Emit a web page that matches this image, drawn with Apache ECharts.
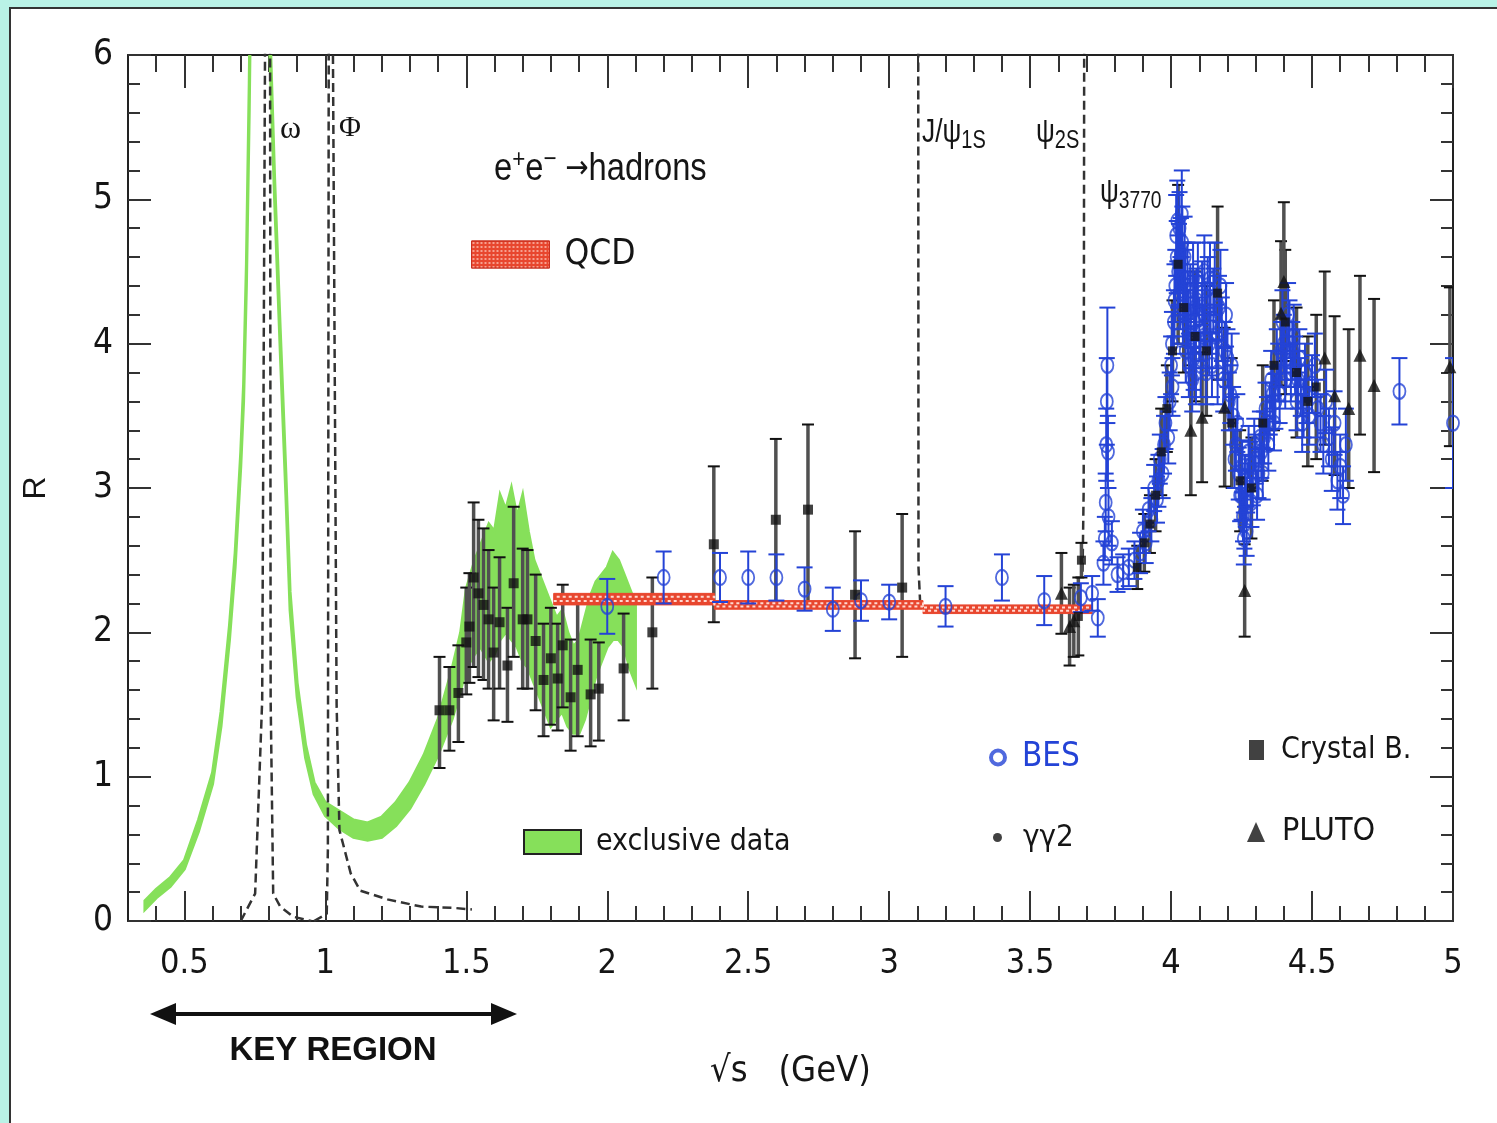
<!DOCTYPE html>
<html><head><meta charset="utf-8">
<script src="https://cdn.jsdelivr.net/npm/echarts@6/dist/echarts.min.js"></script>
<style>html,body{margin:0;padding:0;background:#b9f2e6;overflow:hidden}#c{width:1497px;height:1123px}</style>
</head><body><div id="c"></div>
<script>
const FONT='"DejaVu Sans Condensed","Liberation Sans",sans-serif';
const NARROW='"Liberation Sans",Arial,sans-serif';
const SERIF='"Liberation Serif","DejaVu Serif",serif';

// ---- axis ticks ----
const xMajor=[0.5,1,1.5,2,2.5,3,3.5,4,4.5,5];
const xMinor=[0.4,0.6,0.7,0.8,0.9,1.1,1.2,1.3,1.4,1.6,1.7,1.8,1.9,2.1,2.2,2.3,2.4,2.6,2.7,2.8,2.9,3.1,3.2,3.3,3.4,3.6,3.7,3.8,3.9,4.1,4.2,4.3,4.4,4.6,4.7,4.8,4.9];

// ---- exclusive data band (green) ----
const exclX =[0.36,0.40,0.45,0.50,0.55,0.60,0.63,0.66,0.68,0.70,0.71,0.72,0.73,0.745,0.765,0.785,0.80,0.82,0.84,0.86,0.875,0.90,0.93,0.96,1.00,1.05,1.10,1.15,1.20,1.25,1.30,1.35,1.40,1.45,1.48,1.50,1.53,1.55,1.58,1.60,1.62,1.64,1.66,1.68,1.70,1.72,1.74,1.76,1.78,1.80,1.82,1.84,1.86,1.88,1.90,1.92,1.94,1.96,1.98,2.00,2.02,2.04,2.06,2.08,2.10];
const exclLo=[0.08,0.16,0.24,0.36,0.62,0.95,1.35,1.95,2.45,3.15,3.60,4.40,5.60,8.0,9.0,8.0,6.2,5.0,3.95,2.95,2.15,1.55,1.13,0.88,0.73,0.64,0.58,0.56,0.58,0.66,0.78,0.95,1.15,1.40,1.60,1.75,1.85,1.90,1.80,1.85,1.95,2.00,1.95,1.90,1.80,1.75,1.65,1.55,1.45,1.35,1.40,1.45,1.35,1.30,1.30,1.40,1.55,1.70,1.80,1.90,1.95,1.95,1.90,1.75,1.65];
const exclHi=[0.14,0.22,0.30,0.42,0.70,1.03,1.45,2.05,2.55,3.25,3.72,4.55,5.80,8.3,9.3,8.3,6.4,5.15,4.10,3.10,2.28,1.65,1.22,0.96,0.82,0.76,0.70,0.68,0.72,0.82,0.96,1.15,1.40,1.75,2.00,2.30,2.50,2.60,2.75,2.70,2.95,2.85,3.00,2.80,2.95,2.70,2.50,2.40,2.30,2.20,2.10,2.15,2.00,1.90,1.95,2.10,2.25,2.35,2.40,2.45,2.55,2.50,2.40,2.30,2.20];

// ---- QCD band ----
const qcdX =[1.81,2.38,2.38,3.12,3.12,3.72];
const qcdLo=[2.19,2.19,2.16,2.16,2.13,2.13];
const qcdHi=[2.27,2.27,2.22,2.22,2.19,2.19];

// ---- resonance curves (dashed) ----
const omegaCurve=[[0.70,0.00],[0.751,0.19],[0.776,1.53],[0.786,6.0],[0.795,7.0],[0.804,6.0],[0.806,1.53],[0.815,0.19],[0.84,0.10],[0.886,0.03],[0.95,0.00]];
const phiCurve=[[0.96,0.00],[1.005,0.05],[1.009,0.5],[1.012,6.0],[1.019,7.0],[1.027,6.0],[1.04,1.5],[1.05,0.63],[1.09,0.33],[1.124,0.21],[1.22,0.15],[1.34,0.10],[1.46,0.09],[1.52,0.08]];
const jpsiLine=[[3.11,2.20],[3.104,2.45],[3.103,6.5]];
const psi2sLine=[[3.686,2.42],[3.690,3.0],[3.692,6.5]];

// ---- gamma gamma 2 : [x, R, low, high] ----
const gg2=[[1.405,1.46,1.06,1.83],[1.44,1.46,1.18,1.76],[1.472,1.58,1.24,1.91],[1.50,1.93,1.57,2.31],[1.511,2.04,1.65,2.41],[1.526,2.38,1.76,2.90],[1.543,2.27,1.69,2.78],[1.561,2.19,1.67,2.72],[1.579,2.09,1.61,2.57],[1.597,1.86,1.39,2.31],[1.618,2.07,1.61,2.52],[1.646,1.77,1.38,2.17],[1.668,2.34,1.83,2.87],[1.70,2.09,1.61,2.58],[1.717,2.09,1.61,2.57],[1.746,1.94,1.46,2.40],[1.774,1.67,1.28,2.06],[1.80,1.82,1.36,2.17],[1.824,1.68,1.32,2.06],[1.842,1.91,1.48,2.33],[1.87,1.55,1.18,1.95],[1.895,1.74,1.28,2.20],[1.941,1.57,1.21,1.95],[1.97,1.61,1.25,1.93],[2.058,1.75,1.39,2.13],[2.16,2.00,1.61,2.38],[2.378,2.61,2.07,3.15],[2.598,2.78,2.20,3.34],[2.712,2.85,2.20,3.44],[2.879,2.26,1.82,2.70],[3.046,2.31,1.83,2.82]];

// ---- Crystal Ball : [x, R, err] ----
const crystalBall=[[3.671,2.11,0.27],[3.682,2.50,0.12],[3.88,2.45,0.15],[3.905,2.62,0.2],[3.925,2.75,0.2],[3.945,2.95,0.25],[3.965,3.25,0.3],[3.985,3.55,0.3],[4.005,3.95,0.35],[4.025,4.55,0.55],[4.045,4.25,0.45],[4.085,4.05,0.45],[4.125,3.95,0.45],[4.165,4.35,0.6],[4.215,3.45,0.45],[4.245,3.05,0.35],[4.285,3.00,0.35],[4.325,3.45,0.4],[4.365,3.85,0.45],[4.405,4.15,0.5],[4.445,3.80,0.45],[4.485,3.60,0.45],[4.515,3.70,0.5]];

// ---- PLUTO : [x, R, err] ----
const pluto=[[3.611,2.27,0.28],[3.64,2.04,0.27],[3.655,2.08,0.25],[4.07,3.40,0.45],[4.11,3.49,0.45],[4.19,3.56,0.55],[4.261,2.29,0.32],[4.39,4.21,0.5],[4.40,4.43,0.55],[4.545,3.90,0.6],[4.58,3.64,0.55],[4.63,3.55,0.55],[4.67,3.92,0.55],[4.72,3.71,0.6],[4.989,3.84,0.55]];

// ---- BES : [x, R, err] ----
const bes=[[2.00,2.18,0.19],[2.20,2.38,0.18],[2.40,2.38,0.17],[2.50,2.38,0.18],[2.60,2.38,0.16],[2.70,2.30,0.15],[2.80,2.16,0.15],[2.90,2.22,0.14],[3.00,2.21,0.12],[3.20,2.18,0.14],[3.40,2.38,0.16],[3.55,2.22,0.17],[3.68,2.24,0.10],[3.72,2.27,0.12],[3.74,2.10,0.13],[3.76,2.48,0.15],[3.765,2.65,0.15],[3.768,2.90,0.2],[3.770,3.30,0.25],[3.772,3.60,0.3],[3.774,3.85,0.4],[3.776,3.25,0.25],[3.778,2.80,0.2],[3.79,2.62,0.15],[3.81,2.40,0.12],[3.83,2.42,0.12],[3.85,2.45,0.13],[3.87,2.50,0.13],[3.89,2.55,0.14],[3.90,2.70,0.15],[3.91,2.62,0.14],[3.92,2.85,0.15],[3.93,2.78,0.15],[3.94,3.00,0.16],[3.95,2.92,0.16],[3.96,3.20,0.17],[3.97,3.10,0.17],[3.98,3.45,0.18],[3.99,3.35,0.18],[4.00,3.85,0.2],[4.005,3.70,0.2],[4.01,4.15,0.22],[4.015,4.40,0.25],[4.02,4.60,0.25],[4.025,4.50,0.25],[4.03,4.80,0.25],[4.035,4.62,0.25],[4.04,4.70,0.25],[4.045,4.45,0.25],[4.05,4.40,0.25],[4.055,4.20,0.22],[4.06,4.15,0.22],[4.07,4.05,0.22],[4.08,3.90,0.22],[4.085,4.25,0.22],[4.09,4.30,0.22],[4.10,4.10,0.22],[4.11,4.35,0.22],[4.12,4.20,0.22],[4.13,4.38,0.22],[4.14,4.15,0.22],[4.15,4.30,0.22],[4.16,4.05,0.22],[4.17,4.25,0.22],[4.18,4.10,0.22],[4.19,3.95,0.2],[4.20,3.90,0.2],[4.21,3.65,0.2],[4.22,3.50,0.2],[4.23,3.30,0.18],[4.24,3.10,0.18],[4.25,2.95,0.17],[4.255,2.80,0.17],[4.26,2.75,0.17],[4.265,2.90,0.17],[4.27,3.00,0.17],[4.28,3.15,0.17],[4.29,3.05,0.17],[4.30,3.20,0.17],[4.31,3.10,0.17],[4.32,3.25,0.18],[4.33,3.35,0.18],[4.34,3.45,0.18],[4.35,3.55,0.18],[4.36,3.65,0.19],[4.37,3.60,0.19],[4.38,3.80,0.2],[4.39,3.95,0.2],[4.40,4.00,0.2],[4.41,3.90,0.2],[4.42,4.10,0.2],[4.43,3.95,0.2],[4.44,3.85,0.2],[4.45,3.75,0.2],[4.46,3.70,0.2],[4.47,3.55,0.2],[4.48,3.65,0.2],[4.50,3.72,0.2],[4.52,3.55,0.2],[4.54,3.30,0.2],[4.56,3.35,0.2],[4.57,3.20,0.22],[4.59,3.05,0.2],[4.62,3.30,0.25],[4.81,3.67,0.23],[5.00,3.45,0.45],
[3.955,3.05,0.18],[3.975,3.30,0.2],[3.995,3.60,0.2],[4.003,4.00,0.22],[4.012,4.30,0.25],[4.018,4.75,0.28],[4.022,4.85,0.28],[4.028,4.55,0.28],[4.033,4.35,0.25],[4.038,4.90,0.3],[4.042,4.25,0.25],[4.048,4.60,0.28],[4.052,3.95,0.22],[4.058,4.45,0.25],[4.063,3.85,0.22],[4.068,4.30,0.25],[4.075,3.75,0.22],[4.078,4.45,0.25],[4.082,4.15,0.22],[4.088,3.80,0.22],[4.095,4.45,0.25],[4.105,3.85,0.22],[4.115,4.05,0.22],[4.118,4.50,0.25],[4.125,3.80,0.22],[4.135,4.00,0.22],[4.138,4.45,0.25],[4.145,3.85,0.22],[4.155,4.45,0.25],[4.165,3.80,0.22],[4.175,4.40,0.25],[4.185,3.75,0.22],[4.195,4.20,0.22],[4.205,3.60,0.2],[4.215,3.85,0.22],[4.225,3.20,0.2],[4.235,3.45,0.2],[4.245,2.95,0.18],[4.252,3.15,0.18],[4.258,2.65,0.18],[4.262,3.05,0.18],[4.268,2.70,0.17],[4.275,3.25,0.18],[4.285,2.90,0.17],[4.295,3.30,0.18],[4.305,2.95,0.17],[4.315,3.35,0.18],[4.325,3.10,0.18],[4.335,3.55,0.18],[4.345,3.30,0.18],[4.355,3.75,0.2],[4.365,3.45,0.19],[4.375,3.90,0.2],[4.385,3.65,0.2],[4.395,4.15,0.22],[4.405,3.75,0.2],[4.415,4.20,0.22],[4.425,3.80,0.2],[4.435,4.05,0.22],[4.445,3.60,0.2],[4.455,3.90,0.2],[4.465,3.45,0.2],[4.475,3.80,0.2],[4.49,3.50,0.2],[4.51,3.85,0.22],[4.53,3.45,0.2],[4.55,3.60,0.22],[4.58,3.45,0.22],[4.60,3.15,0.22],[4.61,2.95,0.2]];

const BLUE='#2443d6', GREEN='#86e05a', RED='#e8462e';

function toBars(arr){return arr.map(d=>d.length===4?[d[0],d[2],d[3]]:[d[0],d[1]-d[2],d[1]+d[2]]);}
function bandSeries(name,xs,lo,hi,fill,stroke,lw,z,extra){
  return {type:'custom',name,z,clip:true,itemStyle:{color:fill},
    data:xs.map((x,i)=>[x,lo[i],hi[i]]),encode:{x:0,y:[1,2]},
    renderItem:(p,api)=>{
      if(p.dataIndex!==0) return null;
      const up=[],dn=[];
      for(let i=0;i<xs.length;i++){up.push(api.coord([xs[i],hi[i]]));dn.push(api.coord([xs[i],lo[i]]));}
      const children=[{type:'polygon',shape:{points:up.concat(dn.slice().reverse())},style:{fill,stroke,lineWidth:lw}}];
      if(extra){
        const m1=[],m2=[];
        for(let i=0;i<xs.length;i++){m1.push(api.coord([xs[i],lo[i]+(hi[i]-lo[i])*0.33]));m2.push(api.coord([xs[i],lo[i]+(hi[i]-lo[i])*0.7]));}
        children.push({type:'polyline',shape:{points:m1},style:{stroke:'#ffd8d0',lineWidth:2,lineDash:[3,3],fill:null}});
        children.push({type:'polyline',shape:{points:m2},style:{stroke:'#ffd8d0',lineWidth:2,lineDash:[3,3],lineDashOffset:3,fill:null}});
      }
      return {type:'group',children};
    }};
}
function errSeries(name,arr,color,lw,capW,capColor,capLw,z){
  return {type:'custom',name,z,clip:true,itemStyle:{color},
    data:toBars(arr),encode:{x:0,y:[1,2]},
    renderItem:(p,api)=>{
      const x=api.value(0),a=api.coord([x,api.value(1)]),b=api.coord([x,api.value(2)]);
      return {type:'group',children:[
        {type:'line',shape:{x1:a[0],y1:a[1],x2:b[0],y2:b[1]},style:{stroke:color,lineWidth:lw}},
        {type:'line',shape:{x1:a[0]-capW/2,y1:a[1],x2:a[0]+capW/2,y2:a[1]},style:{stroke:capColor,lineWidth:capLw}},
        {type:'line',shape:{x1:b[0]-capW/2,y1:b[1],x2:b[0]+capW/2,y2:b[1]},style:{stroke:capColor,lineWidth:capLw}}]};
    }};
}
function dashed(name,pts){return {type:'line',name,data:pts,symbol:'none',z:2,lineStyle:{color:'#333',width:2.5,type:[9,5]},silent:true};}

const xBase={type:'value',min:0.3,max:5,splitLine:{show:false}};
const tickStyle={color:'#333',width:2};
const chart=echarts.init(document.getElementById('c'),null,{renderer:'canvas'});
const legTxt=(size,color)=>({fontFamily:FONT,fontSize:size,color:color||'#151515'});
const rich=(x,y,text,big,small,sx,subAlign)=>({type:'text',x,y,scaleX:sx,style:{text,verticalAlign:'middle',rich:{
  a:{fontFamily:NARROW,fontSize:big,fill:'#151515',lineHeight:big+8,verticalAlign:'middle'},
  s:{fontFamily:NARROW,fontSize:small,fill:'#151515',lineHeight:big+8,verticalAlign:subAlign},
  r:{fontFamily:'"DejaVu Sans",sans-serif',fontSize:big*0.85,fill:'#151515',lineHeight:big+8,verticalAlign:'middle'}}}});
chart.setOption({
  animation:false,
  backgroundColor:'transparent',
  grid:{left:128,top:55,width:1325,height:866,containLabel:false},
  xAxis:[
    Object.assign({},xBase,{position:'bottom',axisLine:{show:true,lineStyle:{color:'#222',width:2}},
      axisTick:{show:true,inside:true,length:30,customValues:xMajor,lineStyle:tickStyle},
      axisLabel:{customValues:xMajor,fontFamily:FONT,fontSize:34,color:'#151515',margin:26},
      name:'√s   (GeV)',nameLocation:'middle',nameGap:133,nameTextStyle:{fontFamily:FONT,fontSize:36,color:'#151515'}}),
    Object.assign({},xBase,{position:'bottom',axisLine:{show:false},axisTick:{show:true,inside:true,length:15,customValues:xMinor,lineStyle:tickStyle},axisLabel:{show:false}}),
    Object.assign({},xBase,{position:'top',axisLine:{show:true,lineStyle:{color:'#222',width:2}},axisTick:{show:true,inside:true,length:33,customValues:xMajor,lineStyle:tickStyle},axisLabel:{show:false}}),
    Object.assign({},xBase,{position:'top',axisLine:{show:false},axisTick:{show:true,inside:true,length:17,customValues:xMinor,lineStyle:tickStyle},axisLabel:{show:false}})
  ],
  yAxis:[
    {type:'value',min:0,max:6,interval:1,position:'left',splitLine:{show:false},
      axisLine:{show:true,lineStyle:{color:'#222',width:2}},
      axisTick:{show:true,inside:true,length:23,lineStyle:tickStyle},
      minorTick:{show:true,splitNumber:5,length:12,lineStyle:tickStyle},
      axisLabel:{fontFamily:FONT,fontSize:35,color:'#151515',margin:15},
      name:'R',nameLocation:'middle',nameGap:76,nameRotate:90,nameTextStyle:{fontFamily:'"Liberation Sans",sans-serif',fontSize:32,color:'#151515'}},
    {type:'value',min:0,max:6,interval:1,position:'right',splitLine:{show:false},
      axisLine:{show:true,lineStyle:{color:'#222',width:2}},
      axisTick:{show:true,inside:true,length:23,lineStyle:tickStyle},
      minorTick:{show:true,splitNumber:5,length:12,lineStyle:tickStyle},
      axisLabel:{show:false}}
  ],
  legend:[
    {data:[{name:'QCD',icon:'rect',itemStyle:{color:RED,borderColor:'#c83020',borderWidth:1,decal:{symbol:'circle',symbolSize:0.5,color:'rgba(255,220,210,0.8)',dashArrayX:[4,0],dashArrayY:[4,0]}}}],left:471,top:237,itemWidth:78,itemHeight:27,padding:0,selectedMode:false,textStyle:Object.assign(legTxt(35),{padding:[0,0,0,10]})},
    {data:[{name:'exclusive data',icon:'rect',itemStyle:{color:GREEN,borderColor:'#222',borderWidth:2}}],left:523,top:827,itemWidth:57,itemHeight:24,padding:0,selectedMode:false,textStyle:Object.assign(legTxt(30),{padding:[0,0,0,10]})},
    {data:[{name:'BES',icon:'circle',itemStyle:{color:'rgba(0,0,0,0)',borderColor:BLUE,borderWidth:4}}],left:989,top:741,itemWidth:14,itemHeight:20,padding:0,selectedMode:false,textStyle:Object.assign(legTxt(33,BLUE),{padding:[0,0,0,12]})},
    {data:[{name:'γγ2',icon:'circle',itemStyle:{color:'#111'}}],left:993,top:822,itemWidth:9,itemHeight:9,padding:0,selectedMode:false,textStyle:Object.assign(legTxt(31),{padding:[0,0,0,16]})},
    {data:[{name:'Crystal B.',icon:'rect',itemStyle:{color:'#111'}}],left:1249,top:735,itemWidth:15,itemHeight:20,padding:0,selectedMode:false,textStyle:Object.assign(legTxt(30),{padding:[0,0,0,12]})},
    {data:[{name:'PLUTO',icon:'triangle',itemStyle:{color:'#111'}}],left:1247,top:816,itemWidth:18,itemHeight:20,padding:0,selectedMode:false,textStyle:Object.assign(legTxt(32),{padding:[0,0,0,12]})}
  ],
  graphic:[
    {type:'rect',z:-100,silent:true,shape:{x:10,y:8,width:1500,height:1130},style:{fill:'#fff',stroke:'#333',lineWidth:2}},
    {type:'text',x:280,y:130,style:{text:'ω',font:'32px '+SERIF,fill:'#151515',verticalAlign:'middle'}},
    {type:'text',x:339,y:128,style:{text:'Φ',font:'30px '+SERIF,fill:'#151515',verticalAlign:'middle'}},
    rich(922,133,'{a|J/ψ}{s|1S}',33,25,0.8,'bottom'),
    rich(1036,133,'{a|ψ}{s|2S}',33,25,0.8,'bottom'),
    rich(1100,193,'{a|ψ}{s|3770}',33,24,0.8,'bottom'),
    rich(494,170,'{a|e}{s|+}{a|e}{s|−}{r| →}{a|hadrons}',38,26,0.86,'top'),
    {type:'line',shape:{x1:168,y1:1014,x2:500,y2:1014},style:{stroke:'#111',lineWidth:4}},
    {type:'polygon',shape:{points:[[150,1014],[176,1003],[176,1025]]},style:{fill:'#111'}},
    {type:'polygon',shape:{points:[[517,1014],[491,1003],[491,1025]]},style:{fill:'#111'}},
    {type:'text',x:333,y:1051,style:{text:'KEY REGION',font:'bold 33px "Liberation Sans",Arial,sans-serif',fill:'#111',align:'center',verticalAlign:'middle'}}
  ],
  series:[
    bandSeries('exclusive data',exclX,exclLo,exclHi,GREEN,GREEN,3,1,false),
    dashed('omega',omegaCurve),
    dashed('phi',phiCurve),
    dashed('jpsi',jpsiLine),
    dashed('psi2s',psi2sLine),
    errSeries('eb_gg2',gg2,'#505050',3.5,12,'#111',2,3),
    errSeries('eb_cb',crystalBall,'#505050',3.5,12,'#111',2,3),
    errSeries('eb_pluto',pluto,'#505050',3.5,12,'#111',2,3),
    bandSeries('QCD',qcdX,qcdLo,qcdHi,RED,RED,1,4,true),
    errSeries('eb_bes',bes,BLUE,2,16,BLUE,2,5),
    {type:'scatter',name:'BES',data:bes.map(d=>[d[0],d[1]]),symbol:'circle',symbolSize:[12,15],z:6,itemStyle:{color:'rgba(0,0,0,0)',borderColor:BLUE,borderWidth:2}},
    {type:'scatter',name:'γγ2',data:gg2.map(d=>[d[0],d[1]]),symbol:'rect',symbolSize:10,z:7,itemStyle:{color:'#111'}},
    {type:'scatter',name:'Crystal B.',data:crystalBall.map(d=>[d[0],d[1]]),symbol:'rect',symbolSize:9,z:7,itemStyle:{color:'#111'}},
    {type:'scatter',name:'PLUTO',data:pluto.map(d=>[d[0],d[1]]),symbol:'triangle',symbolSize:13,z:7,itemStyle:{color:'#111'}}
  ]
});
</script></body></html>
